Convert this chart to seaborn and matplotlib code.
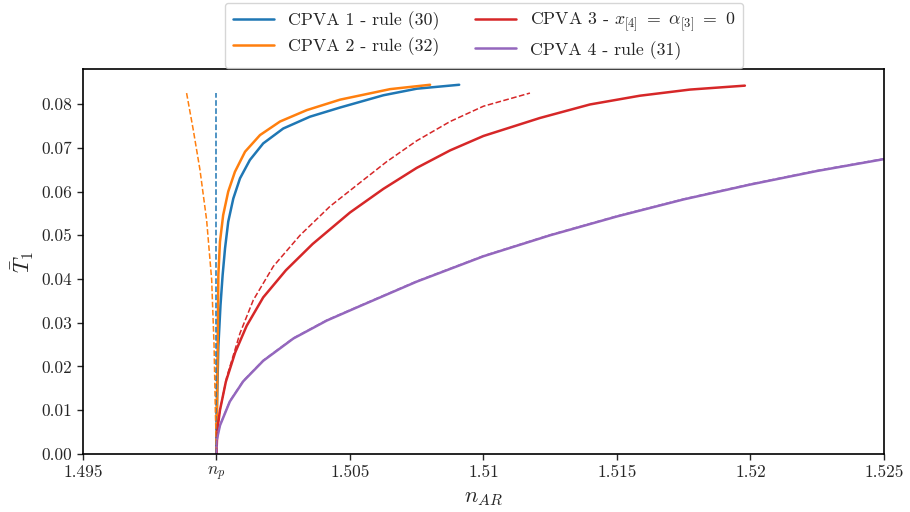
import pandas as pd
import seaborn as sns
import matplotlib.pyplot as plt

# CPVA 1 - rule (30)
cpva1_x = [1.5, 1.50001, 1.50007, 1.50015, 1.50023, 1.50032, 1.50044, 1.50063,
           1.50088, 1.50125, 1.50175, 1.5025, 1.5035, 1.50463, 1.50625, 1.5075, 1.50909]
cpva1_y = [0.0, 0.0093, 0.0246, 0.0340, 0.0409, 0.0470, 0.0531, 0.0584,
           0.0630, 0.0672, 0.0710, 0.0744, 0.0771, 0.0792, 0.0820, 0.0835, 0.0844]
cpva1_dash_x = [1.5, 1.5]
cpva1_dash_y = [0.0, 0.0825]

# CPVA 2 - rule (32)
cpva2_x = [1.5, 1.50003, 1.50007, 1.50013, 1.50025, 1.50044, 1.50069, 1.50107,
           1.50163, 1.50238, 1.50338, 1.50463, 1.5065, 1.508]
cpva2_y = [0.0, 0.0169, 0.0409, 0.0485, 0.0546, 0.0600, 0.0645, 0.0691,
           0.0729, 0.0760, 0.0786, 0.0810, 0.0834, 0.0844]
cpva2_dash_x = [1.49888, 1.49913, 1.49938, 1.49963, 1.49982, 1.49991, 1.49996, 1.5]
cpva2_dash_y = [0.0825, 0.0741, 0.0650, 0.0535, 0.0398, 0.0246, 0.0093, 0.0]

# CPVA 3 - x[4] = alpha[3] = 0
cpva3_x = [1.5, 1.50003, 1.50013, 1.50035, 1.5007, 1.50113, 1.50175, 1.5026,
           1.5036, 1.505, 1.50625, 1.5075, 1.50875, 1.51, 1.51211, 1.51399,
           1.51586, 1.51773, 1.51979]
cpva3_y = [0.0, 0.0055, 0.0100, 0.0165, 0.0232, 0.0293, 0.0358, 0.0420,
           0.0480, 0.0552, 0.0606, 0.0654, 0.0694, 0.0727, 0.0768, 0.0799,
           0.0819, 0.0833, 0.0842]
cpva3_dash_x = [1.5, 1.50003, 1.50013, 1.50038, 1.50088, 1.50138, 1.50213,
                1.50313, 1.50425, 1.50537, 1.50637, 1.5075, 1.50875, 1.51, 1.51174]
cpva3_dash_y = [0.0, 0.0055, 0.0100, 0.0175, 0.0276, 0.0352, 0.0429,
                0.0500, 0.0566, 0.0620, 0.0668, 0.0716, 0.0760, 0.0795, 0.0825]

# CPVA 4 - rule (31)
cpva4_x = [1.5, 1.50001, 1.50013, 1.5005, 1.501, 1.50175, 1.50288, 1.50413,
           1.50537, 1.5075, 1.51, 1.5125, 1.515, 1.5175, 1.52, 1.5225, 1.525]
cpva4_y = [0.0, 0.0032, 0.0065, 0.0120, 0.0166, 0.0213, 0.0264, 0.0305,
           0.0338, 0.0394, 0.0452, 0.0500, 0.0543, 0.0582, 0.0616, 0.0647, 0.0674]
cpva4_dash_x = cpva4_x
cpva4_dash_y = [0.0, 0.0033, 0.0066, 0.0121, 0.0167, 0.0214, 0.0265, 0.0306,
                0.0339, 0.0395, 0.0453, 0.0501, 0.0544, 0.0583, 0.0617, 0.0648, 0.0675]

labels = ["CPVA 1 - rule (30)", "CPVA 2 - rule (32)",
          r"CPVA 3 - $x_{[4]}\ =\ \alpha_{[3]}\ =\ 0$", "CPVA 4 - rule (31)"]
colors = ["#1f77b4", "#ff7f0e", "#d62728", "#9467bd"]

x_ticks = [1.495, 1.5, 1.505, 1.51, 1.515, 1.52, 1.525]
x_tick_labels = ["1.495", "$n_p$", "1.505", "1.51", "1.515", "1.52", "1.525"]
y_ticks = [0.0, 0.01, 0.02, 0.03, 0.04, 0.05, 0.06, 0.07, 0.08]

sns.set_style("ticks")
plt.rcParams["font.family"] = ["cmr10"]
plt.rcParams["mathtext.fontset"] = "cm"
plt.rcParams["axes.formatter.use_mathtext"] = True
plt.rcParams["axes.unicode_minus"] = False

fig = plt.figure(figsize=(9.1, 5.12), dpi=100)
ax = fig.add_axes([0.0912, 0.1133, 0.8802, 0.7519])

solid = [(cpva1_x, cpva1_y), (cpva2_x, cpva2_y), (cpva3_x, cpva3_y), (cpva4_x, cpva4_y)]
dashed = [(cpva1_dash_x, cpva1_dash_y), (cpva2_dash_x, cpva2_dash_y),
          (cpva3_dash_x, cpva3_dash_y), (cpva4_dash_x, cpva4_dash_y)]

for (xs, ys), lab, c in zip(solid, labels, colors):
    df = pd.DataFrame({"n": xs, "T": ys})
    sns.lineplot(data=df, x="n", y="T", ax=ax, color=c, lw=1.8, label=lab,
                 sort=False, estimator=None)
for (xs, ys), c in zip(dashed, colors):
    df = pd.DataFrame({"n": xs, "T": ys})
    sns.lineplot(data=df, x="n", y="T", ax=ax, color=c, lw=1.1, ls="--",
                 sort=False, estimator=None)

ax.set_xlim(1.495, 1.525)
ax.set_ylim(0, 0.088)
ax.set_xticks(x_ticks)
ax.set_xticklabels(x_tick_labels)
ax.set_yticks(y_ticks)
ax.set_yticklabels([f"{v:.2f}" for v in y_ticks])
ax.tick_params(labelsize=12.5, direction="out", length=4, width=1)
for s in ax.spines.values():
    s.set_linewidth(1.2)
    s.set_color("black")
ax.set_xlabel("$n_{AR}$", fontsize=16)
ax.set_ylabel(r"$\bar{T}_1$", fontsize=16)

handles, labs = ax.get_legend_handles_labels()
fig.legend(handles[:4], labs[:4], loc="upper center", bbox_to_anchor=(0.532, 1.0),
           ncol=2, fontsize=12.8, frameon=True, columnspacing=2.0,
           handlelength=2.3, borderpad=0.45, labelspacing=0.4, borderaxespad=0.15)
ax.get_legend().remove()

fig.savefig("out.png", dpi=100)
